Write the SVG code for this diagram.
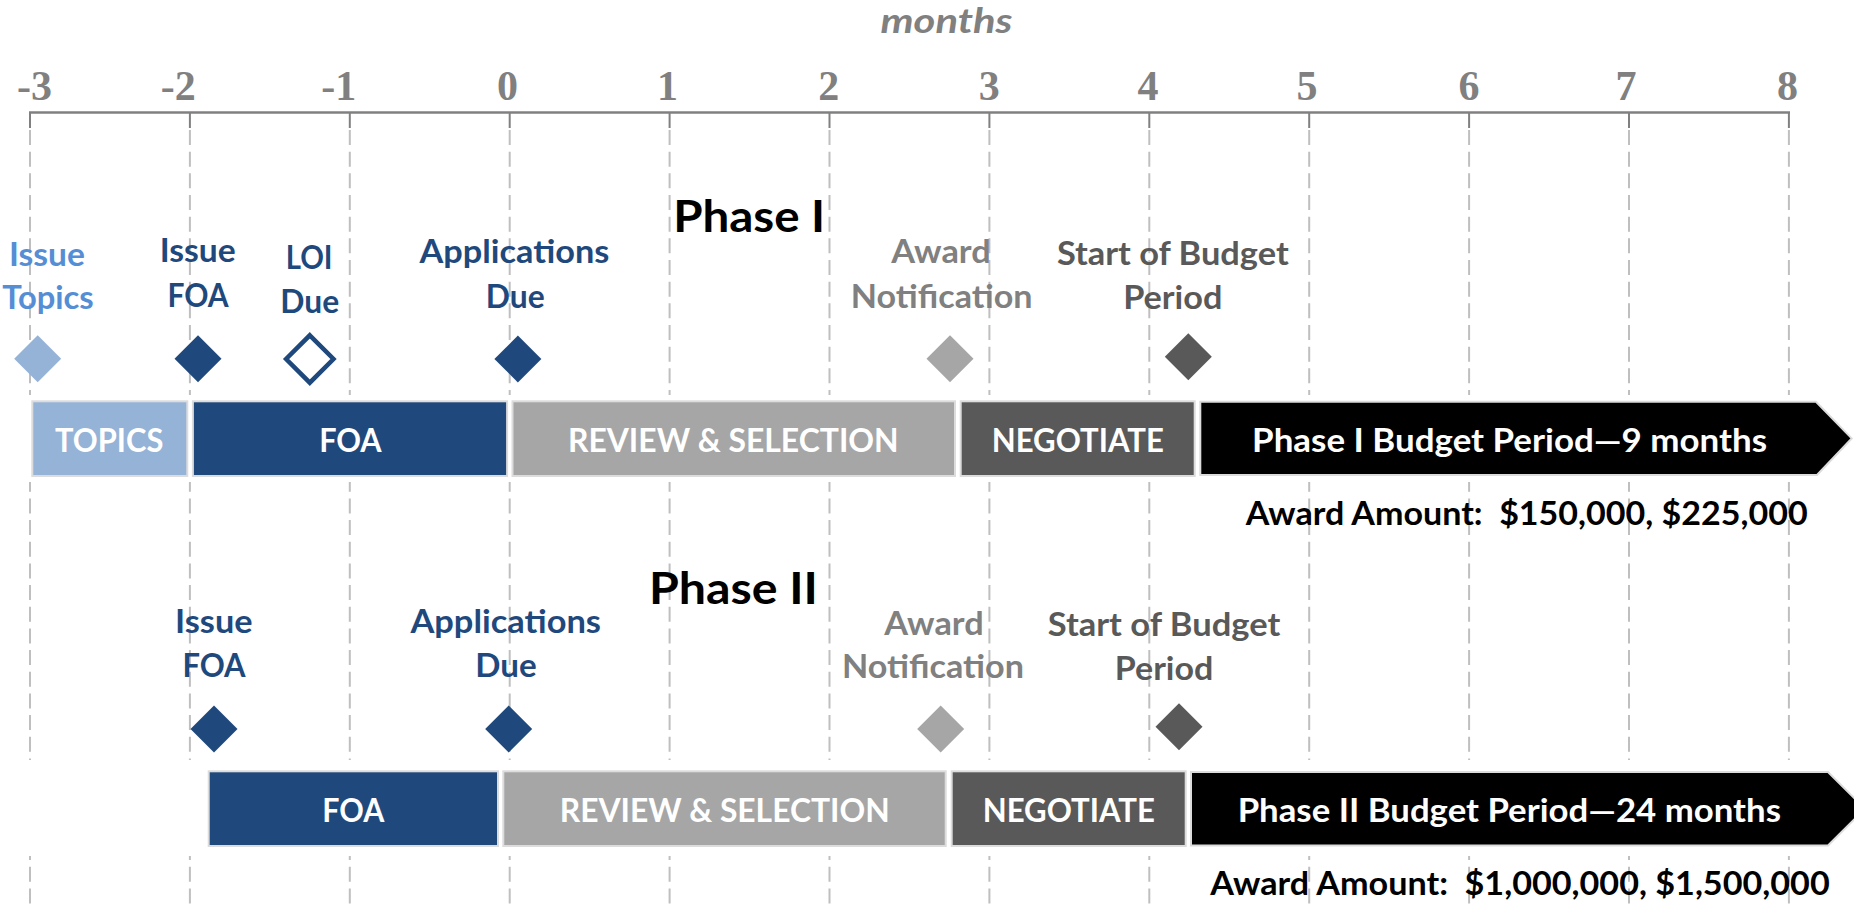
<svg xmlns="http://www.w3.org/2000/svg" width="1854" height="908" viewBox="0 0 1854 908">
<style>
.grid{stroke:#bfbfbf;stroke-width:2;stroke-dasharray:15 6.67;fill:none}
.tick{stroke:#808080;stroke-width:2}
.axis{stroke:#808080;stroke-width:2.5}
.num{font-family:"Liberation Serif",serif;font-weight:bold;font-size:42px;fill:#808080;text-anchor:middle}
.lbl{font-family:Lato,"Open Sans",sans-serif;font-weight:bold;font-size:32.5px;text-anchor:middle}
.bar{font-family:Lato,"Open Sans",sans-serif;font-weight:bold;font-size:32.5px;fill:#ffffff;text-anchor:middle}
.title{font-family:Lato,"Open Sans",sans-serif;font-weight:bold;font-size:44px;fill:#000000;text-anchor:middle}
.amt{font-family:Lato,"Open Sans",sans-serif;font-weight:bold;font-size:32px;fill:#000000;text-anchor:middle}
.lb{fill:#558ed5}.db{fill:#1f497d}.gr{fill:#808080}.dg{fill:#595959}
.edge{stroke:#dcdcdc;stroke-width:2}
</style>
<rect width="1854" height="908" fill="#ffffff"/>
<g id="axis">
<text x="946.5" y="33" font-family="Lato,'Open Sans',sans-serif" font-weight="bold" font-style="italic" font-size="34" fill="#808080" text-anchor="middle" textLength="132" lengthAdjust="spacingAndGlyphs">months</text>
<g class="grid">
<line x1="30" y1="130" x2="30" y2="908"/><line x1="189.9" y1="130" x2="189.9" y2="908"/><line x1="349.8" y1="130" x2="349.8" y2="908"/><line x1="509.7" y1="130" x2="509.7" y2="908"/><line x1="669.6" y1="130" x2="669.6" y2="908"/><line x1="829.5" y1="130" x2="829.5" y2="908"/><line x1="989.4" y1="130" x2="989.4" y2="908"/><line x1="1149.3" y1="130" x2="1149.3" y2="908"/><line x1="1309.2" y1="130" x2="1309.2" y2="908"/><line x1="1469.1" y1="130" x2="1469.1" y2="908"/><line x1="1629" y1="130" x2="1629" y2="908"/><line x1="1788.9" y1="130" x2="1788.9" y2="908"/>
</g>
<g class="tick">
<line x1="30" y1="112" x2="30" y2="128"/><line x1="189.9" y1="112" x2="189.9" y2="128"/><line x1="349.8" y1="112" x2="349.8" y2="128"/><line x1="509.7" y1="112" x2="509.7" y2="128"/><line x1="669.6" y1="112" x2="669.6" y2="128"/><line x1="829.5" y1="112" x2="829.5" y2="128"/><line x1="989.4" y1="112" x2="989.4" y2="128"/><line x1="1149.3" y1="112" x2="1149.3" y2="128"/><line x1="1309.2" y1="112" x2="1309.2" y2="128"/><line x1="1469.1" y1="112" x2="1469.1" y2="128"/><line x1="1629" y1="112" x2="1629" y2="128"/><line x1="1788.9" y1="112" x2="1788.9" y2="128"/>
</g>
<line class="axis" x1="29" y1="112.5" x2="1790" y2="112.5"/>
<text class="num" x="34.6" y="100">-3</text>
<text class="num" x="178.3" y="100">-2</text>
<text class="num" x="338.7" y="100">-1</text>
<text class="num" x="507.6" y="100">0</text>
<text class="num" x="667.4" y="100">1</text>
<text class="num" x="828.8" y="100">2</text>
<text class="num" x="989.2" y="100">3</text>
<text class="num" x="1148" y="100">4</text>
<text class="num" x="1307" y="100">5</text>
<text class="num" x="1469" y="100">6</text>
<text class="num" x="1626" y="100">7</text>
<text class="num" x="1787.4" y="100">8</text>
</g>
<rect x="0" y="395" width="1854" height="87" fill="#ffffff"/>
<rect x="0" y="760" width="1854" height="96" fill="#ffffff"/>
<g id="phase1">
<text class="title" x="749.2" y="232" textLength="152" lengthAdjust="spacingAndGlyphs">Phase I</text>
<g id="p1-issue-topics">
<text class="lbl lb" x="46.9" y="266" textLength="75.9" lengthAdjust="spacingAndGlyphs">Issue</text>
<text class="lbl lb" x="48" y="309.3" textLength="91.5" lengthAdjust="spacingAndGlyphs">Topics</text>
<polygon points="37.7,335.2 61.2,358.7 37.7,382.2 14.2,358.7" fill="#95b3d7"/>
</g>
<g id="p1-issue-foa">
<text class="lbl db" x="197.8" y="261.7" textLength="75.9" lengthAdjust="spacingAndGlyphs">Issue</text>
<text class="lbl db" x="198" y="306.7" textLength="61.2" lengthAdjust="spacingAndGlyphs">FOA</text>
<polygon points="198,335.2 221.5,358.7 198,382.2 174.5,358.7" fill="#1f497d"/>
</g>
<g id="p1-loi-due">
<text class="lbl db" x="309.1" y="269.3" textLength="46.9" lengthAdjust="spacingAndGlyphs">LOI</text>
<text class="lbl db" x="309.8" y="313.3" textLength="58.9" lengthAdjust="spacingAndGlyphs">Due</text>
<polygon points="309.8,335.3 333.5,359 309.8,382.7 286.1,359" fill="#ffffff" stroke="#1f497d" stroke-width="4.5"/>
</g>
<g id="p1-applications-due">
<text class="lbl db" x="514.5" y="263.3" textLength="189.8" lengthAdjust="spacingAndGlyphs">Applications</text>
<text class="lbl db" x="515.2" y="308.3" textLength="58.9" lengthAdjust="spacingAndGlyphs">Due</text>
<polygon points="517.9,335.5 541.4,359 517.9,382.5 494.4,359" fill="#1f497d"/>
</g>
<g id="p1-award-notification">
<text class="lbl gr" x="941" y="263.3" textLength="99.4" lengthAdjust="spacingAndGlyphs">Award</text>
<text class="lbl gr" x="941.7" y="308.3" textLength="181.7" lengthAdjust="spacingAndGlyphs">Notification</text>
<polygon points="950,335.2 973.5,358.7 950,382.2 926.5,358.7" fill="#a6a6a6"/>
</g>
<g id="p1-start-budget">
<text class="lbl dg" x="1172.8" y="265" textLength="231.8" lengthAdjust="spacingAndGlyphs">Start of Budget</text>
<text class="lbl dg" x="1172.8" y="309.3" textLength="99.3" lengthAdjust="spacingAndGlyphs">Period</text>
<polygon points="1188.3,333.2 1211.8,356.7 1188.3,380.2 1164.8,356.7" fill="#595959"/>
</g>
<g id="p1-topics-bar">
<rect class="edge" x="32.3" y="401.3" width="155" height="74.7" fill="#95b3d7"/>
<text class="bar" x="109.2" y="451.7" textLength="108.3" lengthAdjust="spacingAndGlyphs">TOPICS</text>
</g>
<g id="p1-foa-bar">
<rect class="edge" x="192.9" y="401.3" width="314.2" height="74.7" fill="#1f497d"/>
<text class="bar" x="350.4" y="451.7" textLength="62.5" lengthAdjust="spacingAndGlyphs">FOA</text>
</g>
<g id="p1-review-bar">
<rect class="edge" x="512.5" y="401.3" width="442.5" height="74.7" fill="#a6a6a6"/>
<text class="bar" x="733.3" y="451.7" textLength="330.8" lengthAdjust="spacingAndGlyphs">REVIEW &amp; SELECTION</text>
</g>
<g id="p1-negotiate-bar">
<rect class="edge" x="960.7" y="401.3" width="234" height="74.7" fill="#595959"/>
<text class="bar" x="1077.8" y="451.7" textLength="172.3" lengthAdjust="spacingAndGlyphs">NEGOTIATE</text>
</g>
<g id="p1-budget-arrow">
<polygon class="edge" points="1200.3,401.7 1816,401.7 1851.7,438.4 1817,475 1200.3,475" fill="#000000"/>
<text class="bar" x="1509.6" y="451.7" textLength="515" lengthAdjust="spacingAndGlyphs">Phase I Budget Period—9 months</text>
</g>
<text class="amt" x="1526.7" y="525" xml:space="preserve" textLength="562" lengthAdjust="spacingAndGlyphs">Award Amount:  $150,000, $225,000</text>
</g>
<g id="phase2">
<text class="title" x="733.4" y="604" textLength="169" lengthAdjust="spacingAndGlyphs">Phase II</text>
<g id="p2-issue-foa">
<text class="lbl db" x="213.8" y="633.3" textLength="77.5" lengthAdjust="spacingAndGlyphs">Issue</text>
<text class="lbl db" x="214" y="676.7" textLength="63.2" lengthAdjust="spacingAndGlyphs">FOA</text>
<polygon points="214,705.5 237.5,729 214,752.5 190.5,729" fill="#1f497d"/>
</g>
<g id="p2-applications-due">
<text class="lbl db" x="505.7" y="633" textLength="190.6" lengthAdjust="spacingAndGlyphs">Applications</text>
<text class="lbl db" x="506" y="676.7" textLength="61.4" lengthAdjust="spacingAndGlyphs">Due</text>
<polygon points="508.7,705.5 532.2,729 508.7,752.5 485.2,729" fill="#1f497d"/>
</g>
<g id="p2-award-notification">
<text class="lbl gr" x="934" y="635" textLength="99.3" lengthAdjust="spacingAndGlyphs">Award</text>
<text class="lbl gr" x="933" y="678.3" textLength="182" lengthAdjust="spacingAndGlyphs">Notification</text>
<polygon points="940.7,705.5 964.2,729 940.7,752.5 917.2,729" fill="#a6a6a6"/>
</g>
<g id="p2-start-budget">
<text class="lbl dg" x="1164" y="636" textLength="232.5" lengthAdjust="spacingAndGlyphs">Start of Budget</text>
<text class="lbl dg" x="1164" y="680" textLength="98.5" lengthAdjust="spacingAndGlyphs">Period</text>
<polygon points="1179,703.2 1202.5,726.7 1179,750.2 1155.5,726.7" fill="#595959"/>
</g>
<g id="p2-foa-bar">
<rect class="edge" x="208.7" y="771.3" width="289.3" height="74.7" fill="#1f497d"/>
<text class="bar" x="353.3" y="822.3" textLength="62" lengthAdjust="spacingAndGlyphs">FOA</text>
</g>
<g id="p2-review-bar">
<rect class="edge" x="503.3" y="771.3" width="442.4" height="74.7" fill="#a6a6a6"/>
<text class="bar" x="724.7" y="822.3" textLength="330" lengthAdjust="spacingAndGlyphs">REVIEW &amp; SELECTION</text>
</g>
<g id="p2-negotiate-bar">
<rect class="edge" x="951.7" y="771.3" width="234" height="74.7" fill="#595959"/>
<text class="bar" x="1068.8" y="822.3" textLength="172.3" lengthAdjust="spacingAndGlyphs">NEGOTIATE</text>
</g>
<g id="p2-budget-arrow">
<polygon class="edge" points="1191,772 1828,772 1865,808.7 1828,845.5 1191,845.5" fill="#000000"/>
<text class="bar" x="1509.3" y="822.3" textLength="543.3" lengthAdjust="spacingAndGlyphs">Phase II Budget Period—24 months</text>
</g>
<text class="amt" x="1520" y="895" xml:space="preserve" textLength="619.4" lengthAdjust="spacingAndGlyphs">Award Amount:  $1,000,000, $1,500,000</text>
</g>
<g id="connectors"></g>
</svg>
